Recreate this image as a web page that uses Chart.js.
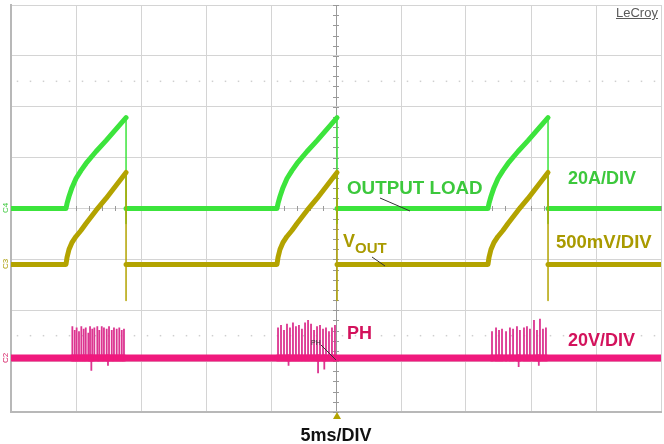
<!DOCTYPE html>
<html>
<head>
<meta charset="utf-8">
<script src="https://cdn.jsdelivr.net/npm/chart.js@4.4.1/dist/chart.umd.min.js"></script>
<style>
  html, body { margin: 0; padding: 0; background: #fff; }
  #wrap { position: relative; width: 664px; height: 444px; font-family: "Liberation Sans", Arial, sans-serif; }
  #scope { position: absolute; left: 0; top: 0; }
  #marks { position: absolute; left: 0; top: 0; pointer-events: none; }
  .lbl { position: absolute; font-weight: bold; font-size: 18px; line-height: 18px; white-space: nowrap; }
  .load { color: #3cc83c; }
  .vout { color: #a99a00; }
  .ph { color: #d3125c; }
  .ch { position: absolute; font-size: 8px; line-height: 8px; transform: rotate(-90deg); transform-origin: center; }
</style>
</head>
<body>
<div id="wrap">
  <canvas id="scope" width="664" height="444"></canvas>
  <svg id="marks" width="664" height="444">
    <line x1="380" y1="198" x2="410" y2="211" stroke="#333" stroke-width="1"/>
    <line x1="372" y1="257" x2="385" y2="266" stroke="#333" stroke-width="1"/>
    <line x1="321" y1="345" x2="336" y2="360" stroke="#333" stroke-width="1"/>
    <polygon points="333,419 341,419 337,412" fill="#b3a300"/>
  </svg>
  <div class="lbl load" style="left:347px; top:179px; font-size:18.8px;">OUTPUT LOAD</div>
  <div class="lbl load" style="left:568px; top:169px;">20A/DIV</div>
  <div class="lbl vout" style="left:343px; top:232px;">V<span style="font-size:15px; position:relative; top:6px;">OUT</span></div>
  <div class="lbl vout" style="left:556px; top:233px; font-size:18.5px;">500mV/DIV</div>
  <div class="lbl ph" style="left:347px; top:324px;">PH</div>
  <div class="lbl ph" style="left:568px; top:331px;">20V/DIV</div>
  <div class="lbl" style="left:336px; top:426px; font-size:18px; line-height:18px; color:#111; transform:translateX(-50%);">5ms/DIV</div>
  <div style="position:absolute; left:616px; top:5px; font-size:13px; color:#5a5a5a; text-decoration:underline;">LeCroy</div>
  <div style="position:absolute; left:311px; top:339px; font-size:7px; color:#333;">PH</div>
  <div class="ch load" style="left:1px; top:204px;">C4</div>
  <div class="ch vout" style="left:1px; top:260px;">C3</div>
  <div class="ch ph" style="left:1px; top:354px;">C2</div>
</div>
<script>
// time base: 10 div x 5 ms
const timeMin = 0
const timeMax = 50

// C4 OUTPUT LOAD, amps (20 A/div)
const loadTimes = [0,
  4.23, 4.31, 4.46, 4.69, 5.00, 5.38, 5.77, 6.54, 7.31, 8.08, 8.85, 8.85, 8.85,
  20.46, 20.54, 20.69, 20.92, 21.23, 21.61, 22.00, 22.77, 23.54, 24.31, 25.08, 25.08, 25.08,
  36.69, 36.77, 36.92, 37.15, 37.46, 37.84, 38.23, 39.00, 39.77, 40.54, 41.31, 41.31, 41.31,
  50]
const loadAmps = [0,
  0, 2.0, 4.7, 8.2, 11.8, 14.9, 17.7, 22.4, 26.7, 31.2, 35.7, -5.9, 0,
  0, 2.0, 4.7, 8.2, 11.8, 14.9, 17.7, 22.4, 26.7, 31.2, 35.7, -5.9, 0,
  0, 2.0, 4.7, 8.2, 11.8, 14.9, 17.7, 22.4, 26.7, 31.2, 35.7, -5.9, 0,
  0]

// C3 VOUT deviation, mV (500 mV/div)
const voutTimes = [0,
  4.23, 4.31, 4.46, 4.69, 5.00, 5.38, 5.77, 6.54, 7.31, 8.08, 8.85, 8.85, 8.85,
  20.46, 20.54, 20.69, 20.92, 21.23, 21.61, 22.00, 22.77, 23.54, 24.31, 25.08, 25.08, 25.08,
  36.69, 36.77, 36.92, 37.15, 37.46, 37.84, 38.23, 39.00, 39.77, 40.54, 41.31, 41.31, 41.31,
  50]
const voutMv = [0,
  0, 69, 147, 216, 275, 334, 403, 531, 649, 777, 904, -354, 0,
  0, 69, 147, 216, 275, 334, 403, 531, 649, 777, 904, -354, 0,
  0, 69, 147, 216, 275, 334, 403, 531, 649, 777, 904, -354, 0,
  0]

// C2 PH switch node spikes, volts (20 V/div)
const phSpikeTimes = [
  4.72, 4.90, 5.05, 5.23, 5.41, 5.59, 5.75, 5.95, 6.08, 6.18, 6.25, 6.41, 6.64, 6.79,
  6.98, 7.15, 7.36, 7.46, 7.54, 7.75, 7.92, 8.13, 8.33, 8.52, 8.69,
  20.54, 20.77, 21.00, 21.23, 21.35, 21.46, 21.69, 21.92, 22.15, 22.38, 22.62, 22.85,
  23.08, 23.31, 23.54, 23.62, 23.77, 24.00, 24.10, 24.23, 24.46, 24.69, 24.92,
  37.00, 37.31, 37.54, 37.77, 38.08, 38.38, 38.62, 38.92, 39.05, 39.15, 39.46, 39.69,
  39.92, 40.23, 40.46, 40.60, 40.69, 40.92, 41.15]
const phSpikeVolts = [
  12.5, 11.0, 12.0, 10.5, 12.5, 11.5, 12.0, 10.0, 12.5, -5.0, 11.5, 12.0, 12.5, 11.0,
  12.5, 12.0, 11.5, -3.0, 12.5, 11.0, 12.0, 11.5, 12.0, 11.0, 11.5,
  12.0, 13.0, 11.0, 13.5, -3.0, 12.0, 14.0, 12.5, 13.0, 11.5, 14.0, 15.0,
  13.5, 11.0, 12.5, -6.0, 13.0, 11.5, -4.5, 12.0, 10.5, 12.0, 13.0,
  10.5, 12.0, 11.0, 11.5, 10.5, 12.0, 11.5, 12.5, -3.5, 11.0, 12.0, 12.5,
  11.5, 15.0, 11.0, -3.0, 15.5, 11.5, 12.0]

const loadPts = loadTimes.map((t, i) => ({x: t, y: loadAmps[i]}))
const voutPts = voutTimes.map((t, i) => ({x: t, y: voutMv[i]}))
const phPts = [{x: timeMin, y: 0}]
phSpikeTimes.forEach((t, i) => {
    phPts.push({x: t, y: 0}, {x: t, y: phSpikeVolts[i]}, {x: t, y: 0})
})
phPts.push({x: timeMax, y: 0})

// vertical steps thin, trace body thick like the scope persistence
const isStep = (c) => c.p0.parsed.x === c.p1.parsed.x

// center cross tick marks and the faint dotted lines
const scopeMarks = {
    id: 'scopeMarks',
    beforeDatasetsDraw(chart) {
        const {ctx, scales: {x, yLoad}} = chart
        const cx = x.getPixelForValue(25)
        const cy = yLoad.getPixelForValue(0)
        ctx.save()
        ctx.strokeStyle = '#999'
        ctx.lineWidth = 1
        ctx.beginPath()
        for (let t = timeMin; t <= timeMax; t += 1) {
            const px = Math.round(x.getPixelForValue(t)) + 0.5
            ctx.moveTo(px, cy - 2.5)
            ctx.lineTo(px, cy + 2.5)
        }
        for (let a = -80; a <= 80; a += 4) {
            const py = Math.round(yLoad.getPixelForValue(a)) + 0.5
            ctx.moveTo(cx - 3, py)
            ctx.lineTo(cx + 3, py)
        }
        ctx.stroke()
        ctx.fillStyle = '#cfcfcf'
        for (const a of [50, -50]) {
            const py = yLoad.getPixelForValue(a)
            for (let t = 0.5; t < timeMax; t += 1) {
                ctx.fillRect(x.getPixelForValue(t) - 0.75, py - 0.75, 1.5, 1.5)
            }
        }
        ctx.restore()
    }
}

const scopeConfig = {
    type: 'line',
    data: {
        datasets: [
            {
                label: 'PH',
                data: phPts,
                yAxisID: 'yPh',
                borderColor: '#f0197d',
                borderWidth: 7,
                borderCapStyle: 'round',
                segment: {
                    borderWidth: c => isStep(c) ? 1.8 : 7,
                    borderColor: c => isStep(c) ? '#dc3590' : '#f0197d'
                }
            },
            {
                label: 'VOUT',
                data: voutPts,
                yAxisID: 'yVout',
                borderColor: '#b3a300',
                borderWidth: 5,
                borderCapStyle: 'round',
                borderJoinStyle: 'round',
                segment: {
                    borderWidth: c => isStep(c) ? 1.5 : 5
                }
            },
            {
                label: 'OUTPUT LOAD',
                data: loadPts,
                yAxisID: 'yLoad',
                borderColor: '#3ce43c',
                borderWidth: 5,
                borderCapStyle: 'round',
                borderJoinStyle: 'round',
                segment: {
                    borderWidth: c => isStep(c) ? 1.5 : 5
                }
            }
        ]
    },
    options: {
        responsive: false,
        animation: false,
        layout: { padding: { left: 11, right: 3, top: 5, bottom: 32 } },
        elements: { point: { radius: 0 }, line: { tension: 0 } },
        plugins: { legend: { display: false }, tooltip: { enabled: false } },
        scales: {
            x: {
                type: 'linear',
                min: timeMin,
                max: timeMax,
                ticks: { display: false, stepSize: 5 },
                grid: {
                    drawTicks: false,
                    color: c => c.tick && c.tick.value === 25 ? '#9a9a9a' : '#d4d4d4'
                },
                border: { color: '#b8b8b8', width: 2 }
            },
            yLoad: {
                position: 'left',
                min: -80,
                max: 80,
                ticks: { display: false, stepSize: 20 },
                grid: { drawTicks: false, color: '#d4d4d4' },
                border: { color: '#b8b8b8', width: 2 }
            },
            yVout: { display: false, min: -1450, max: 2550 },
            yPh: { display: false, min: -21.2, max: 138.8 }
        }
    },
    plugins: [scopeMarks]
}

const scopeChart = new Chart(document.getElementById('scope'), scopeConfig)
</script>
</body>
</html>
